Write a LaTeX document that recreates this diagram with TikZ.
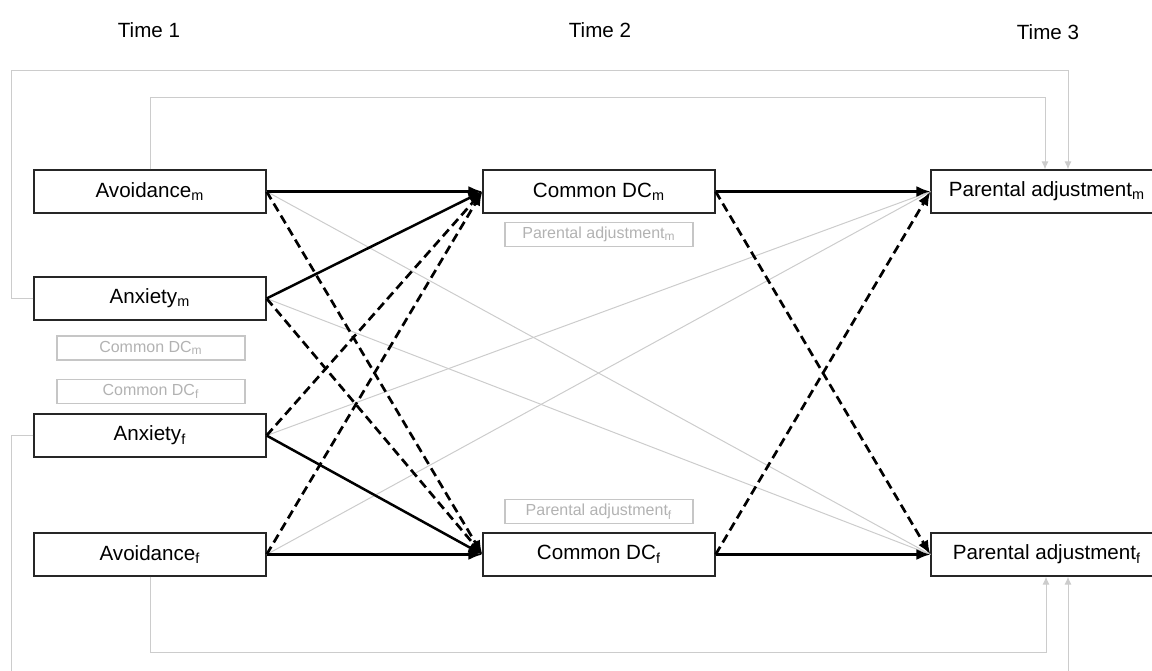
\documentclass[tikz,border=0pt]{standalone}
\usepackage{fontspec}
\setmainfont{Liberation Sans}
\usetikzlibrary{arrows.meta,positioning}

\begin{document}
\begin{tikzpicture}[x=0.5pt,y=-0.5pt,
        font=\fontsize{10.3}{12}\selectfont,
        var/.style={draw=black!85, line width=0.6pt, minimum width=116pt,
                    minimum height=21.5pt, inner sep=0pt},
        ghost/.style={draw=gray!45, text=gray!60, line width=0.6pt,
                    font=\fontsize{8}{9}\selectfont, minimum width=94pt,
                    minimum height=12pt, inner sep=0pt},
        solidarrow/.style={line width=1.25pt, -{Latex[length=7pt,width=5.5pt]}},
        dasharrow/.style={solidarrow, line width=1.35pt, dash pattern=on 4.5pt off 2.5pt},
        greyline/.style={gray!40, line width=0.5pt},
        greyarrow/.style={greyline, -{Latex[length=4pt,width=3.5pt]}}]
                \useasboundingbox (0,0) rectangle (1152,670);
                \clip (0,0) rectangle (1152,670);

                \node (t1) at (149,30) {Time 1};
                \node (t2) at (600,30) {Time 2};
                \node (t3) at (1048,32) {Time 3};

                \node [var] (avm) at (150,191.5) {Avoidance\textsubscript{m}};
                \node [var] (anxm) at (150,298.5) {Anxiety\textsubscript{m}};
                \node [ghost] (gcm) at (151,348) {Common DC\textsubscript{m}};
                \node [ghost] (gcf) at (151,391.5) {Common DC\textsubscript{f}};
                \node [var] (anxf) at (150,435.5) {Anxiety\textsubscript{f}};
                \node [var] (avf) at (150,554.5) {Avoidance\textsubscript{f}};

                \node [var] (cdcm) at (599,191.5) {Common DC\textsubscript{m}};
                \node [ghost, below = 4pt of cdcm] (gpm) {Parental adjustment\textsubscript{m}};
                \node [var] (cdcf) at (599,554.5) {Common DC\textsubscript{f}};
                \node [ghost, above = 4pt of cdcf] (gpf) {Parental adjustment\textsubscript{f}};

                \node [var] (pam) at (1047,191.5) {Parental adjustment\textsubscript{m}};
                \node [var] (paf) at (1047,554.5) {Parental adjustment\textsubscript{f}};

                \draw[greyarrow] (anxm.west) -| (11,70) -| ([xshift=10.5pt]pam.north);
                \draw[greyarrow] (avm.north) |- (1045,97) -- ([xshift=-1pt]pam.north);
                \draw[greyarrow] (avf.south) |- (1046,652) -- ([xshift=-0.5pt]paf.south);
                \draw[greyarrow] (anxf.west) -| (11,720) -| ([xshift=10.5pt]paf.south);

                \draw[greyline] (avm.east) -- (paf.west);
                \draw[greyline] (anxm.east) -- (paf.west);
                \draw[greyline] (anxf.east) -- (pam.west);
                \draw[greyline] (avf.east) -- (pam.west);

                \draw[solidarrow] (avm.east) -- (cdcm.west);
                \draw[dasharrow] (avm.east) -- (cdcf.west);
                \draw[solidarrow] (anxm.east) -- (cdcm.west);
                \draw[dasharrow] (anxm.east) -- (cdcf.west);
                \draw[dasharrow] (anxf.east) -- (cdcm.west);
                \draw[solidarrow] (anxf.east) -- (cdcf.west);
                \draw[dasharrow] (avf.east) -- (cdcm.west);
                \draw[solidarrow] (avf.east) -- (cdcf.west);

                \draw[solidarrow] (cdcm.east) -- (pam.west);
                \draw[dasharrow] (cdcm.east) -- (paf.west);
                \draw[dasharrow] (cdcf.east) -- (pam.west);
                \draw[solidarrow] (cdcf.east) -- (paf.west);
            \end{tikzpicture}
\end{document}
